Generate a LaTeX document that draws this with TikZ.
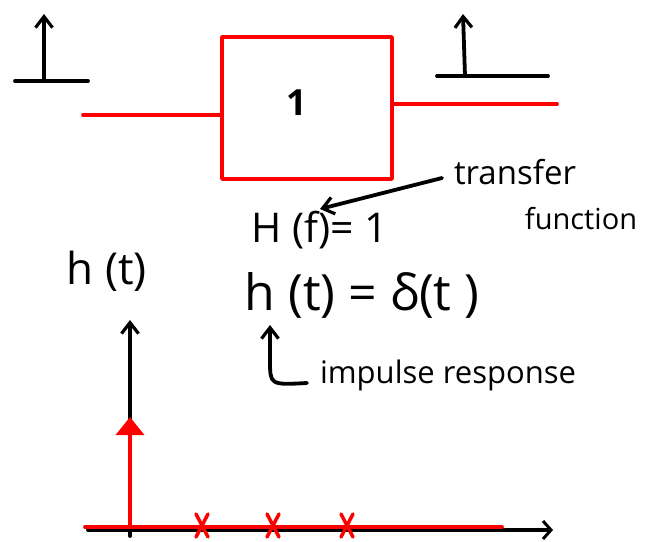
\documentclass[tikz,border=0pt]{standalone}
\usepackage{fontspec}
\setmainfont{Open Sans}
\usetikzlibrary{arrows.meta}
\begin{document}
\begin{tikzpicture}[x=1pt,y=-1pt,line cap=round,line join=round,
  ink/.style={line width=3.8pt,black},
  redink/.style={line width=3.8pt,red},
  barb/.style={-{Straight Barb[length=11pt,width=17pt,line width=3.2pt]}},
  hand/.style={inner sep=0pt,anchor=center}]
\useasboundingbox (0,0) rectangle (650,541);
% input impulse
\coordinate (inL) at (15,81); \coordinate (inR) at (88,81);
\coordinate (inB) at (44,81); \coordinate (inT) at (44,14);
\draw[ink] (inL) -- (inR);
\draw[ink,barb] (inB) -- (inT);
% system box
\node[draw=red,line width=3.5pt,minimum width=170pt,minimum height=142pt,inner sep=0pt] (sys) at (307,108) {};
\node[hand,font=\fontsize{36}{36}\bfseries] (one) at (297,103) {1};
\coordinate (inW) at (83,115);
\draw[redink] (inW) -- (sys.west |- inW);
\coordinate (outE) at (557,104);
\draw[redink] (sys.east |- outE) -- (outE);
% output impulse
\coordinate (outL) at (437,76); \coordinate (outR) at (548,76);
\coordinate (outB) at (465,76); \coordinate (outT) at (463,14);
\draw[ink] (outL) -- (outR);
\draw[ink,barb] (outB) -- (outT);
% texts
\node[hand,font=\fontsize{33}{33}\selectfont] (tf) at (515,172) {transfer};
\node[hand,font=\fontsize{29}{29}\selectfont] (fn) at (581,219) {function};
\node[hand,font=\fontsize{41}{41}\selectfont] (Hf) at (320,230) {H (f)= 1};
\node[hand,font=\fontsize{50}{50}\selectfont] (ht) at (362,295) {h (t) = δ(t )};
\node[hand,font=\fontsize{44}{44}\selectfont] (hl) at (107,271) {h (t)};
\node[hand,font=\fontsize{31}{31}\selectfont] (ir) at (448,375) {impulse response};
% annotation arrows
\coordinate (tfA) at (442,178); \coordinate (tfB) at (320,209);
\draw[ink,barb] (tfA) -- (tfB);
\coordinate (hk1) at (307,383); \coordinate (hk2) at (270,325);
\draw[ink,barb] (hk1) .. controls (270,385) .. (270,360) -- (hk2);
% axes
\coordinate (vB) at (130,536); \coordinate (vT) at (130,320);
\draw[ink,barb] (vB) -- (vT);
\coordinate (hL) at (88,530); \coordinate (hR) at (553,530);
\draw[ink,-{Straight Barb[length=8pt,width=18pt,line width=3pt]}] (hL) -- (hR);
\coordinate (rL) at (85,527); \coordinate (rR) at (502,527);
\draw[redink] (rL) -- (rR);
\coordinate (rB) at (130,527); \coordinate (rT) at (130,417);
\draw[redink,-{Triangle[length=18pt,width=28pt]}] (rB) -- (rT);
\foreach \x in {202,273,347}{
  \draw[redink,line width=3.5pt] (\x-6,514) -- (\x+6,537) (\x+6,514) -- (\x-6,537);
}
\end{tikzpicture}
\end{document}
